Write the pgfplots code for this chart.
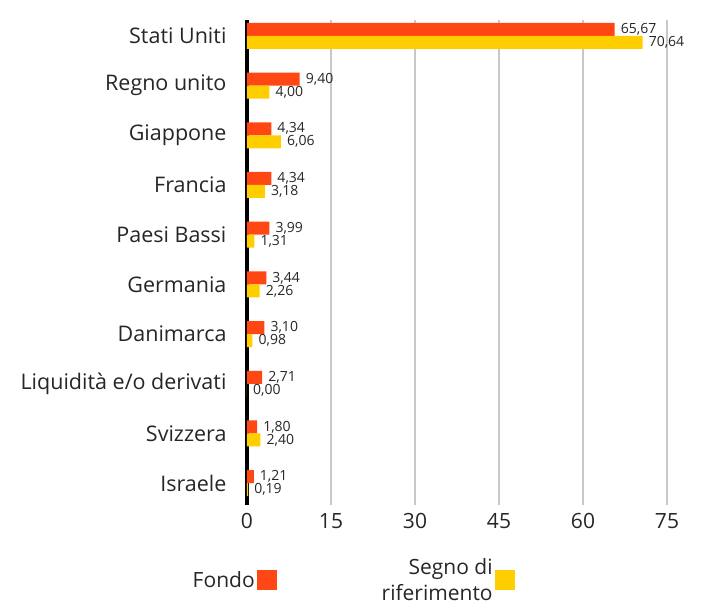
\documentclass[border=0pt]{standalone}
\usepackage{fontspec}
\setmainfont{Open Sans}
\usepackage{pgfplots}
\pgfplotsset{compat=1.18}
\usetikzlibrary{calc}
\definecolor{fondo}{HTML}{FF4713}
\definecolor{bench}{HTML}{FFCE00}
\definecolor{gridc}{HTML}{C8C8C8}
\begin{document}
\begin{tikzpicture}
\begin{axis}[
  name=ax,
  scale only axis,
  width=436.8pt, height=485pt,
  xbar=0pt, bar width=13pt,
  xmin=0, xmax=78,
  ymin=-0.32, ymax=9.44,
  y dir=reverse,
  ytick={0,...,9},
  yticklabels={Stati Uniti,Regno unito,Giappone,Francia,Paesi Bassi,Germania,Danimarca,Liquidità e/o derivati,Svizzera,Israele},
  xtick={0,15,30,45,60,75},
  /pgf/number format/assume math mode=true,
  axis x line*=bottom, axis y line*=left,
  x axis line style={draw=none},
  y axis line style={black, line width=4pt},
  major tick length=0pt,
  xmajorgrids, grid style={gridc, line width=2pt},
  tick label style={font=\fontsize{21}{24}\selectfont, text=black!85},
  yticklabel style={xshift=-17pt, font=\fontsize{21.5}{24}\selectfont},
  xticklabel style={yshift=-5pt},
  nodes near coords={\pgfmathprintnumber[fixed,fixed zerofill,precision=2,use comma]{\pgfplotspointmeta}},
  nodes near coords style={anchor=west, inner sep=0pt, xshift=6pt, font=\fontsize{14}{15}\selectfont, text=black!85},
  point meta=x,
  clip=false,
  legend columns=2,
  legend plot pos=right,
  legend cell align=right,
  legend style={draw=none, fill=none, at={(0.242,-0.155)}, anchor=center,
    nodes={align=right, font=\fontsize{21}{26}\selectfont, text=black!85},
    /tikz/every even column/.append style={column sep=103pt}},
]
\addplot[bar shift=6.5pt, draw=none, fill=fondo, legend image code/.code={\fill[fondo] (8pt,-10pt) rectangle (28pt,10pt);}] coordinates {
(65.67,0) (9.40,1) (4.34,2) (4.34,3) (3.99,4) (3.44,5) (3.10,6) (2.71,7) (1.80,8) (1.21,9)};
\addplot[bar shift=-6.5pt, draw=none, fill=bench, legend image code/.code={\fill[bench] (8pt,-10pt) rectangle (28pt,10pt);}] coordinates {
(70.64,0) (4.00,1) (6.06,2) (3.18,3) (1.31,4) (2.26,5) (0.98,6) (0.00,7) (2.40,8) (0.19,9)};
\legend{Fondo, {Segno di\\riferimento}}
\end{axis}
\path ($(ax.south west)+(-247pt,-100pt)$) rectangle ($(ax.north west)+(455pt,20pt)$);
\end{tikzpicture}
\end{document}
